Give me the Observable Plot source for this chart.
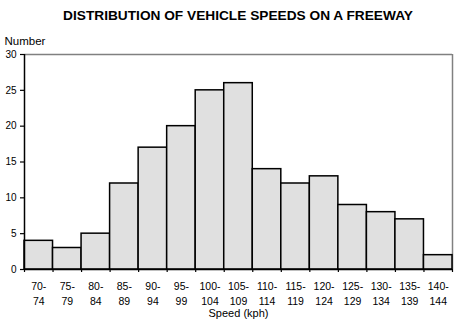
<!DOCTYPE html>
<html>
<head>
<meta charset="utf-8">
<script src="https://cdn.jsdelivr.net/npm/d3@7"></script>
<script src="https://cdn.jsdelivr.net/npm/@observablehq/plot@0.6"></script>
<style>
  body { margin: 0; background: #fff; font-family: "Liberation Sans", Arial, Helvetica, sans-serif; }
  #title { height: 30px; line-height: 32px; text-align: center; font-weight: bold; font-size: 13.7px; color: #000; }
  #chart svg { display: block; }
</style>
</head>
<body>
<div id="title">DISTRIBUTION OF VEHICLE SPEEDS ON A FREEWAY</div>
<div id="chart"></div>
<script>
// Speed classes (kph): lower bound, upper bound and label of each class
const binStart = [70, 75, 80, 85, 90, 95, 100, 105, 110, 115, 120, 125, 130, 135, 140];
const binEnd   = [75, 80, 85, 90, 95, 100, 105, 110, 115, 120, 125, 130, 135, 140, 145];
const binLabels = ["70-\n74", "75-\n79", "80-\n84", "85-\n89", "90-\n94", "95-\n99", "100-\n104",
  "105-\n109", "110-\n114", "115-\n119", "120-\n124", "125-\n129", "130-\n134", "135-\n139", "140-\n144"];
// Number of vehicles observed in each class
const counts = [4, 3, 5, 12, 17, 20, 25, 26, 14, 12, 13, 9, 8, 7, 2];
// Axis ticks
const yTicks = [0, 5, 10, 15, 20, 25, 30];
const xEdges = [70, 75, 80, 85, 90, 95, 100, 105, 110, 115, 120, 125, 130, 135, 140, 145];

const bins = binStart.map((lo, i) => ({lo, hi: binEnd[i], mid: (lo + binEnd[i]) / 2, label: binLabels[i], n: counts[i]}));

const font = "Liberation Sans, Arial, Helvetica, sans-serif";

const chart = Plot.plot({
  width: 476,
  height: 302,
  marginTop: 24,
  marginRight: 24,
  marginBottom: 63,
  marginLeft: 24,
  style: {fontFamily: font, fontSize: "10px", color: "#000", background: "#fff"},
  x: {domain: [70, 145], axis: null},
  y: {domain: [0, 30], axis: null},
  marks: [
    // gray frame on the top and right
    Plot.ruleY([30], {stroke: "#808080", strokeWidth: 1.5}),
    Plot.ruleX([145], {stroke: "#808080", strokeWidth: 1.5}),
    // histogram bars
    Plot.rectY(bins, {x1: "lo", x2: "hi", y: "n", fill: "#e0e0e0", stroke: "#000", strokeWidth: 1.5}),
    // axes lines
    Plot.ruleY([0], {stroke: "#000", strokeWidth: 1.5}),
    Plot.ruleX([70], {stroke: "#000", strokeWidth: 1.5}),
    // y axis ticks and labels
    Plot.axisY({ticks: yTicks, tickSize: 4, tickPadding: 4, strokeWidth: 1.2, label: null, fontSize: 10}),
    // x tick marks at class boundaries
    Plot.axisX({ticks: xEdges, tickSize: 3, tickFormat: () => "", strokeWidth: 1.2, label: null}),
    // two-line class labels
    Plot.text(bins, {x: "mid", text: "label", frameAnchor: "bottom", lineAnchor: "top", dy: 10, lineHeight: 1.4, fontSize: 10.5}),
    // axis titles
    Plot.text(["Speed (kph)"], {frameAnchor: "bottom", lineAnchor: "top", dy: 39.5, fontSize: 11}),
    Plot.text(["Number"], {frameAnchor: "top-left", textAnchor: "start", lineAnchor: "bottom", dx: -20, dy: -9.5, fontSize: 11.5})
  ]
});
document.getElementById("chart").appendChild(chart);
</script>
</body>
</html>
